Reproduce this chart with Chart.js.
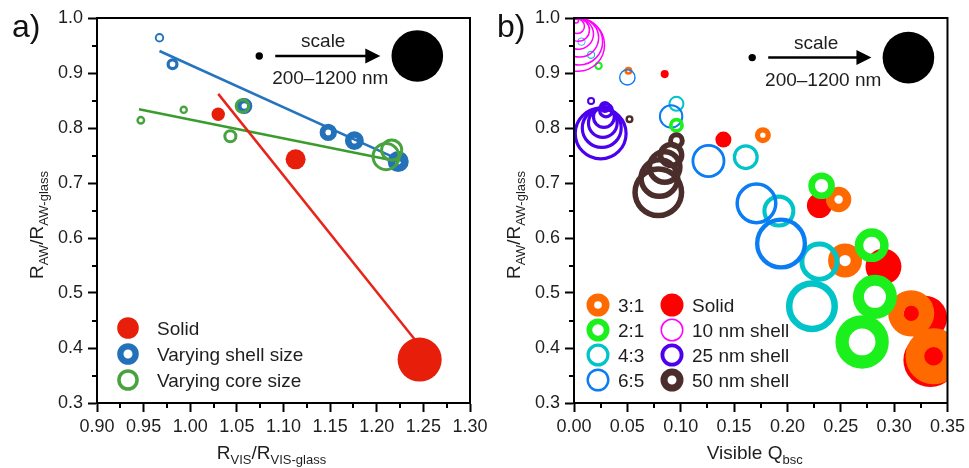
<!DOCTYPE html>
<html>
<head>
<meta charset="utf-8">
<script src="https://cdn.jsdelivr.net/npm/chart.js@4.4.1/dist/chart.umd.min.js"></script>
<style>
  html, body { margin: 0; padding: 0; background: #fff; }
  #wrap { position: relative; width: 969px; height: 468px; overflow: hidden; }
  #chartA { position: absolute; left: 0; top: 0; }
  #chartB { position: absolute; left: 484px; top: 0; }
</style>
</head>
<body>
<div id="wrap">
  <canvas id="chartA" width="500" height="468"></canvas>
  <canvas id="chartB" width="485" height="468"></canvas>
</div>
<script>
// ---- panel a data (x = R_VIS/R_VIS-glass, y = R_AW/R_AW-glass, d = particle diameter in nm)
var solidAX = [1.030, 1.113, 1.246];
var solidAY = [0.825, 0.743, 0.379];
var solidAD = [335, 485, 1030];

var shellAX = [0.967, 0.981, 1.058, 1.148, 1.176, 1.223];
var shellAY = [0.964, 0.916, 0.840, 0.792, 0.777, 0.739];
var shellAD = [245, 305, 395, 425, 460, 510];

var coreAX = [0.947, 0.993, 1.043, 1.056, 1.210, 1.216];
var coreAY = [0.814, 0.833, 0.785, 0.840, 0.748, 0.760];
var coreAD = [235, 225, 350, 385, 690, 555];

// linear fits drawn in panel a
var fitShellX = [0.967, 1.232], fitShellY = [0.940, 0.736];
var fitCoreX = [0.945, 1.223], fitCoreY = [0.834, 0.739];
var fitSolidX = [1.030, 1.241], fitSolidY = [0.862, 0.415];

// ---- panel b data (x = visible Q_bsc)
var solidBX = [0.085, 0.140, 0.230, 0.290, 0.329, 0.334];
var solidBY = [0.898, 0.779, 0.659, 0.548, 0.455, 0.378];
var solidBD = [215, 395, 600, 845, 1030, 1255];

var r31X = [0.051, 0.177, 0.248, 0.254, 0.316, 0.337];
var r31Y = [0.904, 0.787, 0.670, 0.559, 0.463, 0.385];
var r31D = [215, 395, 605, 800, 1075, 1300];

var r21X = [0.023, 0.096, 0.232, 0.279, 0.282, 0.270];
var r21Y = [0.913, 0.805, 0.695, 0.587, 0.493, 0.411];
var r21D = [225, 370, 635, 800, 1030, 1240];

var r43X = [0.016, 0.096, 0.161, 0.192, 0.230, 0.223];
var r43Y = [0.933, 0.844, 0.747, 0.649, 0.557, 0.476];
var r43D = [215, 395, 620, 780, 940, 1210];

var r65X = [0.007, 0.050, 0.091, 0.126, 0.171, 0.194];
var r65Y = [0.957, 0.892, 0.821, 0.740, 0.663, 0.590];
var r65D = [215, 410, 585, 800, 985, 1210];

var sh10X = [0.002, 0.003, 0.004, 0.004, 0.005, 0.005, 0.004];
var sh10Y = [0.995, 0.985, 0.978, 0.971, 0.964, 0.957, 0.951];
var sh10D = [170, 395, 575, 755, 940, 1120, 1255];

var sh25X = [0.016, 0.029, 0.030, 0.028, 0.027, 0.026, 0.025];
var sh25Y = [0.849, 0.838, 0.832, 0.820, 0.809, 0.800, 0.790];
var sh25D = [215, 305, 395, 575, 755, 985, 1255];

var sh50X = [0.052, 0.096, 0.091, 0.085, 0.080, 0.079];
var sh50Y = [0.816, 0.777, 0.751, 0.729, 0.709, 0.683];
var sh50D = [215, 410, 635, 845, 985, 1210];

// size-scale key: 200 nm and 1200 nm
var keyD = [200, 1200];
var keyAX = [1.074, 1.2435], keyAY = [0.931, 0.931];
var keyBX = [0.167, 0.3134], keyBY = [0.928, 0.928];

var FONT = "'Liberation Sans', Arial, sans-serif";
var TXT = '#1e1e1e';

var RED_A = '#e61e0a', BLUE_A = '#2271b9', GREEN_A = '#48a23f';
var RED = '#ff0000', ORANGE = '#ff6a00', GREEN = '#1cf01c', CYAN = '#00c4c8',
    BLUE = '#0a7cf4', MAGENTA = '#ff00ff', PURPLE = '#4b00ee', BROWN = '#4b2d2b';

// 200 nm -> small dot, 1200 nm -> big dot
function radiusOf(d) { return 3.7 + (d - 200) * (25.8 - 3.7) / 1000; }

function points(xs, ys, ds, thick) {
  return xs.map(function (x, i) {
    var o = radiusOf(ds[i]);
    var w = thick ? thick(o) : 0;
    return { x: x, y: ys[i], r: o - w / 2, w: w };
  });
}

function bubbles(label, pts, color, filled, order) {
  return {
    type: 'bubble', label: label, data: pts, order: order, clip: 0,
    backgroundColor: filled ? color : 'rgba(0,0,0,0)',
    borderColor: color,
    borderWidth: function (c) { return c.raw ? c.raw.w : 0; }
  };
}

function fitLine(xs, ys, color, order) {
  return {
    type: 'line', data: xs.map(function (x, i) { return { x: x, y: ys[i] }; }),
    borderColor: color, borderWidth: 2.5, pointRadius: 0, fill: false, order: order
  };
}

function ratioRing(ratio) { return function (o) { return o * (1 - 1 / ratio); }; }

function makeOptions(xmin, xmax, xdec, yWidth, padRight) {
  var tickFont = { family: FONT, size: 18 };
  return {
    responsive: false, animation: false, events: [],
    layout: { autoPadding: false, padding: { left: 0, right: padRight, top: 18, bottom: 0 } },
    plugins: { legend: { display: false }, tooltip: { enabled: false } },
    scales: {
      x: {
        type: 'linear', min: xmin, max: xmax,
        border: { display: true, color: '#000', width: 2 },
        grid: { drawOnChartArea: false, tickLength: 9, tickWidth: 2, tickColor: '#000' },
        ticks: { stepSize: 0.05, autoSkip: false, maxRotation: 0, padding: 4, color: TXT, font: tickFont,
                 callback: function (v) { return v.toFixed(xdec); } },
        afterFit: function (s) { s.height = 65; }
      },
      y: {
        type: 'linear', min: 0.3, max: 1.0,
        border: { display: true, color: '#000', width: 2 },
        grid: { drawOnChartArea: false, tickLength: 9, tickWidth: 2, tickColor: '#000' },
        ticks: { stepSize: 0.1, padding: 5, color: TXT, font: tickFont,
                 callback: function (v) { return v.toFixed(1); } },
        afterFit: function (s) { s.width = yWidth; }
      }
    }
  };
}

function drawParts(ctx, parts, cx, cy, rotate) {
  ctx.save();
  ctx.translate(cx, cy);
  if (rotate) ctx.rotate(-Math.PI / 2);
  var total = 0;
  parts.forEach(function (p) {
    ctx.font = (p[1] ? 13 : 19) + 'px ' + FONT;
    total += ctx.measureText(p[0]).width;
  });
  var x = -total / 2;
  ctx.fillStyle = TXT; ctx.textAlign = 'left'; ctx.textBaseline = 'alphabetic';
  parts.forEach(function (p) {
    ctx.font = (p[1] ? 13 : 19) + 'px ' + FONT;
    ctx.fillText(p[0], x, p[1] ? 5 : 0);
    x += ctx.measureText(p[0]).width;
  });
  ctx.restore();
}

function symbol(ctx, x, y, o, w, color) {
  ctx.beginPath();
  if (w) {
    ctx.arc(x, y, o - w / 2, 0, Math.PI * 2);
    ctx.lineWidth = w; ctx.strokeStyle = color; ctx.stroke();
  } else {
    ctx.arc(x, y, o, 0, Math.PI * 2);
    ctx.fillStyle = color; ctx.fill();
  }
}

function decor(cfg) {
  return {
    id: 'decor',
    afterDatasetsDraw: function (chart) {
      var ctx = chart.ctx, a = chart.chartArea, sx = chart.scales.x, sy = chart.scales.y;
      ctx.save();
      // frame
      ctx.strokeStyle = '#000'; ctx.lineWidth = 2;
      ctx.strokeRect(a.left, a.top, a.right - a.left, a.bottom - a.top);
      // minor ticks
      ctx.lineWidth = 2;
      ctx.beginPath();
      for (var v = sx.min + 0.025; v < sx.max; v += 0.05) {
        var px = Math.round(sx.getPixelForValue(v));
        ctx.moveTo(px, a.bottom); ctx.lineTo(px, a.bottom + 5);
      }
      for (var w = 0.35; w < 1.0; w += 0.1) {
        var py = Math.round(sy.getPixelForValue(w));
        ctx.moveTo(a.left, py); ctx.lineTo(a.left - 5, py);
      }
      ctx.stroke();

      // size key: arrow and text
      var x0 = sx.getPixelForValue(cfg.keyX[0]), x1 = sx.getPixelForValue(cfg.keyX[1]);
      var yk = sy.getPixelForValue(cfg.keyY[0]);
      var tip = x1 - 37;
      ctx.strokeStyle = '#000'; ctx.fillStyle = '#000'; ctx.lineWidth = 2.5;
      ctx.beginPath(); ctx.moveTo(x0 + 16, yk); ctx.lineTo(tip - 12, yk); ctx.stroke();
      ctx.beginPath(); ctx.moveTo(tip, yk); ctx.lineTo(tip - 15, yk - 7.5); ctx.lineTo(tip - 15, yk + 7.5);
      ctx.closePath(); ctx.fill();
      ctx.fillStyle = TXT; ctx.font = '19px ' + FONT; ctx.textAlign = 'center'; ctx.textBaseline = 'alphabetic';
      ctx.fillText('scale', x0 + 64, yk - 9);
      ctx.fillText('200\u20131200 nm', x0 + 71, yk + 28);

      // legend
      cfg.legend.forEach(function (it) {
        var lx = a.left + it.col, ly = a.bottom - it.row;
        symbol(ctx, lx, ly, it.o, it.w, it.color);
        ctx.fillStyle = TXT; ctx.font = '19px ' + FONT; ctx.textAlign = 'left'; ctx.textBaseline = 'alphabetic';
        ctx.fillText(it.label, lx + it.gap, ly + 7);
      });

      // axis titles
      drawParts(ctx, cfg.xTitle, (a.left + a.right) / 2 + cfg.xTitleShift, 459, false);
      drawParts(ctx, cfg.yTitle, a.left - 54, 225, true);

      // panel tag
      ctx.fillStyle = '#111'; ctx.font = '32px ' + FONT; ctx.textAlign = 'left'; ctx.textBaseline = 'alphabetic';
      ctx.fillText(cfg.tag, cfg.tagX, 37);
      ctx.restore();
    }
  };
}

// ---------------- panel a ----------------
new Chart(document.getElementById('chartA'), {
  type: 'bubble',
  data: {
    datasets: [
      bubbles('key', points(keyAX, keyAY, keyD), '#000', true, 1),
      bubbles('Solid', points(solidAX, solidAY, solidAD), RED_A, true, 3),
      bubbles('Varying core size', points(coreAX, coreAY, coreAD, function (o) { return Math.min(3, o * 0.55); }), GREEN_A, false, 4),
      bubbles('Varying shell size', points(shellAX, shellAY, shellAD, function (o) { return Math.max(o - 2.8, 1.8); }), BLUE_A, false, 5),
      fitLine(fitSolidX, fitSolidY, '#e8231a', 7),
      fitLine(fitCoreX, fitCoreY, '#3a9c2c', 8),
      fitLine(fitShellX, fitShellY, '#2474c0', 9)
    ]
  },
  options: makeOptions(0.9, 1.3, 2, 97, 30),
  plugins: [decor({
    keyX: keyAX, keyY: keyAY, tag: 'a)', tagX: 12, xTitleShift: -12,
    xTitle: [['R', false], ['VIS', true], ['/R', false], ['VIS-glass', true]],
    yTitle: [['R', false], ['AW', true], ['/R', false], ['AW-glass', true]],
    legend: [
      { label: 'Solid', color: RED_A, o: 10.8, w: 0, col: 31, row: 75, gap: 29 },
      { label: 'Varying shell size', color: BLUE_A, o: 10.8, w: 6.3, col: 31, row: 49, gap: 29 },
      { label: 'Varying core size', color: GREEN_A, o: 10.8, w: 3.5, col: 31, row: 23, gap: 29 }
    ]
  })]
});

// ---------------- panel b ----------------
new Chart(document.getElementById('chartB'), {
  type: 'bubble',
  data: {
    datasets: [
      bubbles('key', points(keyBX, keyBY, keyD), '#000', true, 1),
      bubbles('10 nm shell', points(sh10X, sh10Y, sh10D, function () { return 1.5; }), MAGENTA, false, 2),
      bubbles('25 nm shell', points(sh25X, sh25Y, sh25D, function (o) { return Math.min(3.2, o * 0.5); }), PURPLE, false, 3),
      bubbles('50 nm shell', points(sh50X, sh50Y, sh50D, function (o) { return Math.min(5.5, o * 0.6); }), BROWN, false, 4),
      bubbles('2:1', points(r21X, r21Y, r21D, ratioRing(2)), GREEN, false, 5),
      bubbles('6:5', points(r65X, r65Y, r65D, ratioRing(6 / 5)), BLUE, false, 6),
      bubbles('4:3', points(r43X, r43Y, r43D, ratioRing(4 / 3)), CYAN, false, 7),
      bubbles('3:1', points(r31X, r31Y, r31D, ratioRing(3)), ORANGE, false, 8),
      bubbles('Solid', points(solidBX, solidBY, solidBD), RED, true, 9)
    ]
  },
  options: makeOptions(0, 0.35, 2, 90, 19),
  plugins: [decor({
    keyX: keyBX, keyY: keyBY, tag: 'b)', tagX: 13, xTitleShift: -6,
    xTitle: [['Visible Q', false], ['bsc', true]],
    yTitle: [['R', false], ['AW', true], ['/R', false], ['AW-glass', true]],
    legend: [
      { label: '3:1', color: ORANGE, o: 11.5, w: 11.5 * 2 / 3, col: 24, row: 98, gap: 20 },
      { label: '2:1', color: GREEN, o: 11.5, w: 11.5 / 2, col: 24, row: 73, gap: 20 },
      { label: '4:3', color: CYAN, o: 11.5, w: 3.2, col: 24, row: 48, gap: 20 },
      { label: '6:5', color: BLUE, o: 11.5, w: 2.4, col: 24, row: 23, gap: 20 },
      { label: 'Solid', color: RED, o: 11.5, w: 0, col: 98, row: 98, gap: 20 },
      { label: '10 nm shell', color: MAGENTA, o: 11.5, w: 1.5, col: 98, row: 73, gap: 20 },
      { label: '25 nm shell', color: PURPLE, o: 11.5, w: 3.8, col: 98, row: 48, gap: 20 },
      { label: '50 nm shell', color: BROWN, o: 11.5, w: 7, col: 98, row: 23, gap: 20 }
    ]
  })]
});
</script>
</body>
</html>
